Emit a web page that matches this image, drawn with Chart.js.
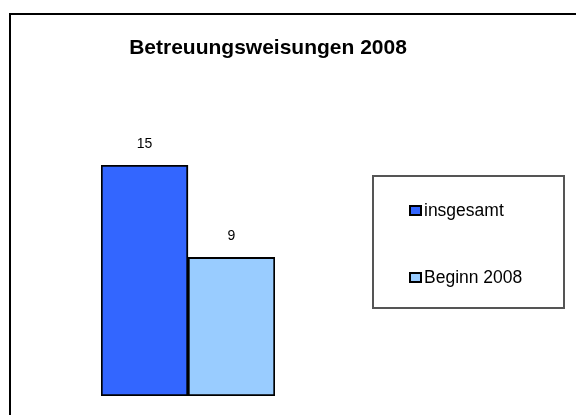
<!DOCTYPE html>
<html>
<head>
<meta charset="utf-8">
<script src="https://cdn.jsdelivr.net/npm/chart.js@4"></script>
<style>
  html, body { margin: 0; padding: 0; background: #fff; }
  #chart { display: block; }
</style>
</head>
<body>
<canvas id="chart" width="576" height="415"></canvas>
<script>
const chartTitle = 'Betreuungsweisungen 2008'
const categories = ['2008']
const seriesNames = ['insgesamt', 'Beginn 2008']
const seriesValues = [[15], [9]]
const seriesColors = ['#3366FF', '#99CCFF']

// frame, title and legend box in the style of the old spreadsheet chart
const decorations = {
    id: 'decorations',
    beforeDraw(chart) {
        const ctx = chart.ctx
        ctx.save()
        ctx.fillStyle = '#fff'
        ctx.fillRect(0, 0, chart.width, chart.height)
        ctx.strokeStyle = '#000'
        ctx.lineWidth = 2
        ctx.strokeRect(10, 14, chart.width + 20, chart.height + 20)
        ctx.restore()
    },
    afterDraw(chart) {
        const ctx = chart.ctx
        ctx.save()
        ctx.fillStyle = '#000'
        ctx.textAlign = 'center'
        ctx.textBaseline = 'middle'
        ctx.font = 'bold 21px "Liberation Sans", Arial, sans-serif'
        ctx.fillText(chartTitle, 268, 48)

        // value labels above the bars
        ctx.font = '14px "Liberation Sans", Arial, sans-serif'
        chart.data.datasets.forEach((ds, i) => {
            chart.getDatasetMeta(i).data.forEach((bar, j) => {
                ctx.fillText(String(ds.data[j]), bar.x, bar.y - 21)
            })
        })

        // legend
        ctx.strokeStyle = '#555'
        ctx.lineWidth = 2
        ctx.strokeRect(373, 176, 191, 132)
        ctx.textAlign = 'left'
        ctx.font = '17.5px "Liberation Sans", Arial, sans-serif'
        chart.data.datasets.forEach((ds, i) => {
            const y = 210 + i * 67
            ctx.fillStyle = ds.backgroundColor
            ctx.fillRect(410, y - 4, 11, 9)
            ctx.strokeStyle = '#000'
            ctx.lineWidth = 2
            ctx.strokeRect(410, y - 4, 11, 9)
            ctx.fillStyle = '#000'
            ctx.fillText(ds.label, 424, y + 1)
        })
        ctx.restore()
    }
}

new Chart(document.getElementById('chart'), {
    type: 'bar',
    data: {
        labels: categories,
        datasets: seriesNames.map((name, i) => ({
            label: name,
            data: seriesValues[i],
            backgroundColor: seriesColors[i],
            borderColor: '#000',
            borderWidth: 2,
            borderSkipped: false
        }))
    },
    options: {
        responsive: false,
        animation: false,
        layout: { padding: { left: 101, right: 301, top: 165, bottom: 19 } },
        datasets: { bar: { categoryPercentage: 1, barPercentage: 1 } },
        scales: {
            x: { display: false },
            y: { display: false, min: 0, max: 15 }
        },
        plugins: {
            legend: { display: false },
            title: { display: false },
            tooltip: { enabled: false }
        }
    },
    plugins: [decorations]
})
</script>
</body>
</html>
